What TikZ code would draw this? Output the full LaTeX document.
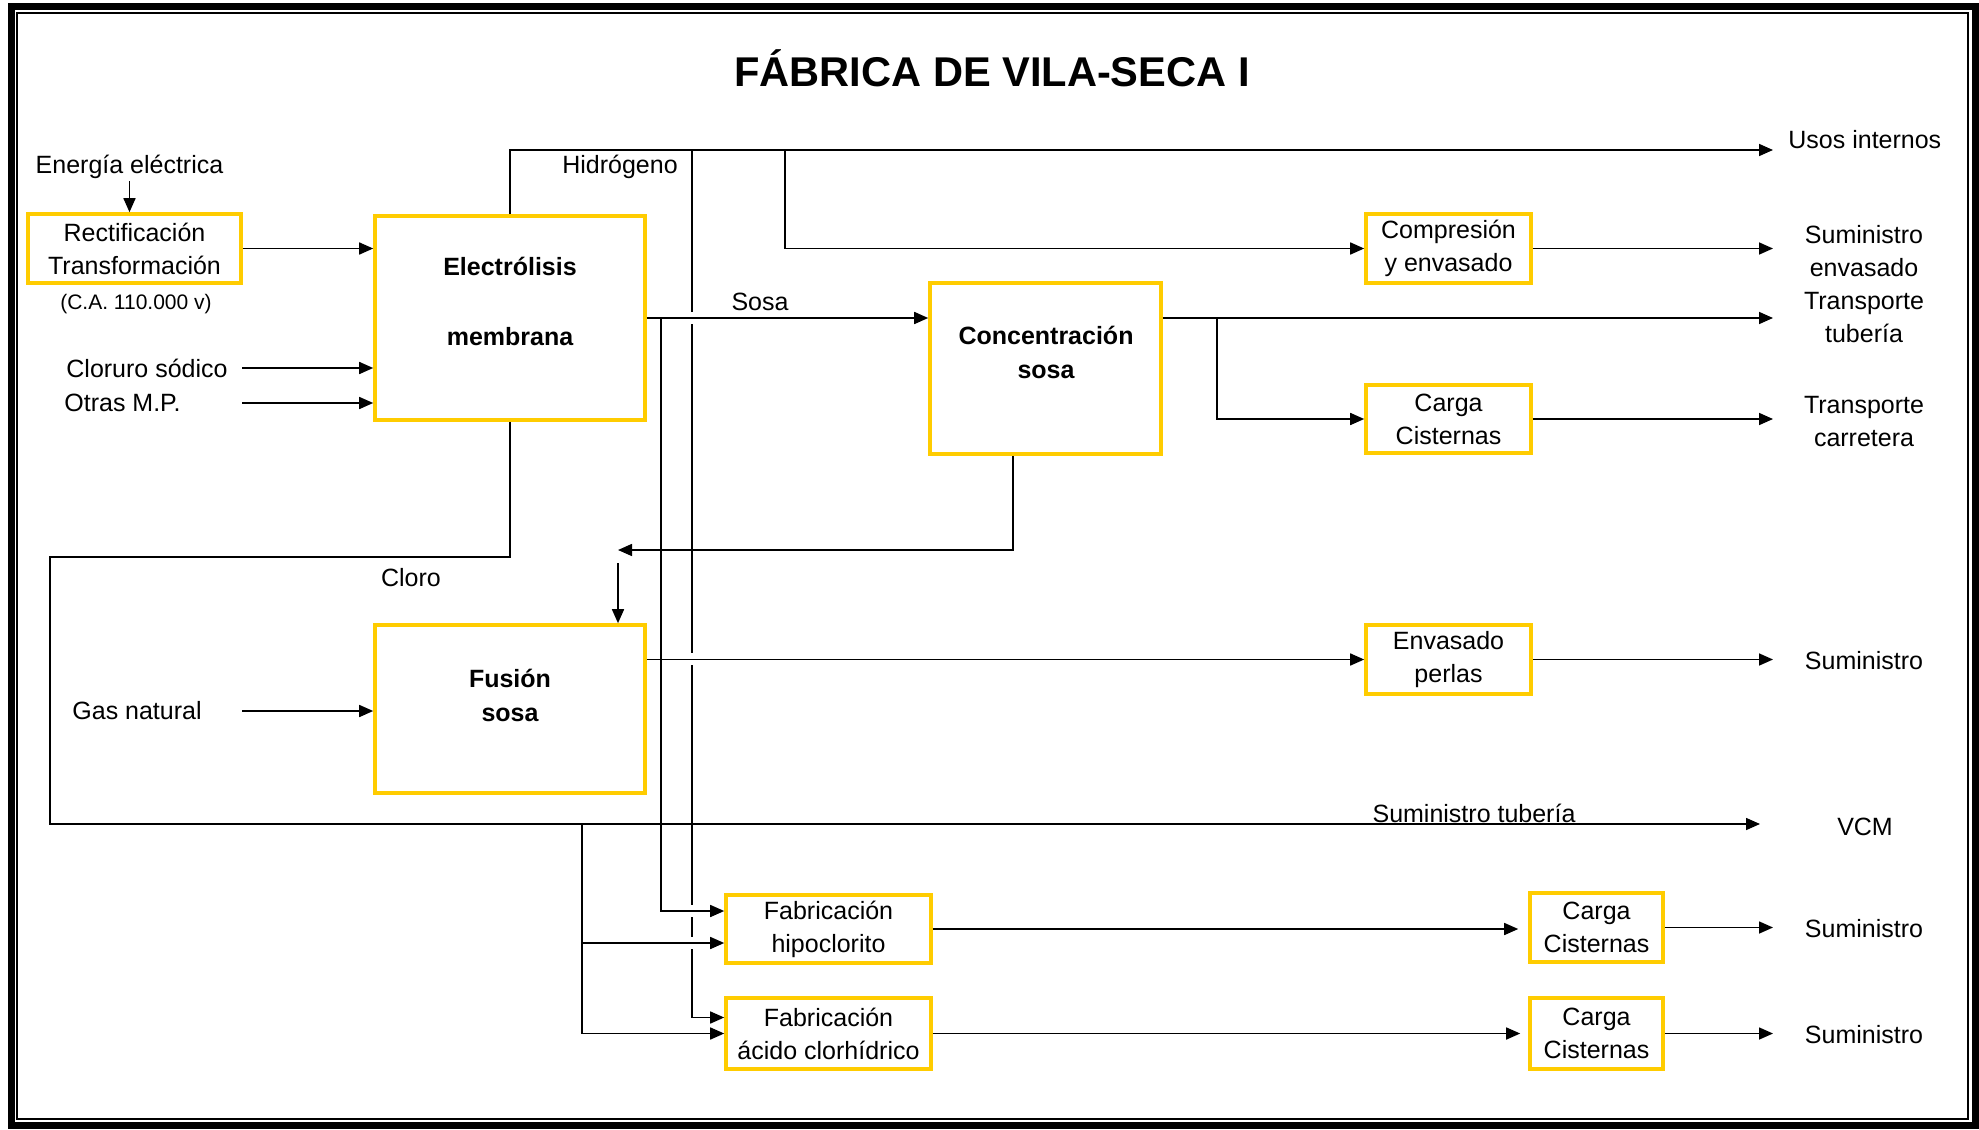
\documentclass[tikz,border=0pt]{standalone}
\usepackage{fontspec}
\setmainfont{Liberation Sans}
\usetikzlibrary{arrows.meta}
\definecolor{gold}{HTML}{FFCC00}

\tikzset{
  unit/.style={draw=gold, line width=1.8pt, inner sep=1pt, align=center,
    font=\fontsize{12.5}{16.5}\selectfont},
  bigunit/.style={draw=gold, line width=1.8pt},
  head/.style={inner sep=1pt, align=center, font=\bfseries\fontsize{12.5}{17}\selectfont},
  txt/.style={inner sep=1pt, align=center, font=\fontsize{12.5}{16.5}\selectfont},
  flow/.style={line width=0.8pt, -{Triangle[length=7pt,width=6pt]}},
  pipe/.style={line width=0.8pt},
}

\begin{document}
\begin{tikzpicture}[x=0.5pt, y=-0.5pt]
            \useasboundingbox (0,0) rectangle (1979,1129);

            % Frame
            \draw[line width=3.5pt] (11.5,7) rectangle (1975.5,1125);
            \draw[line width=1pt] (17,13) rectangle (1968,1118.5);

            % Title
            \node[font=\bfseries\fontsize{20.8}{25}\selectfont] (title) at (992,68) {FÁBRICA DE VILA-SECA I};

            % Process units
            \node[unit, minimum width=106.5pt, minimum height=34.5pt] (rect) at (134.5,248.5) {Rectificación\\Transformación};
            \node[bigunit, minimum width=135pt, minimum height=102pt] (elec) at (510,318) {};
            \node[head] (elecT) at (510,301) {Electrólisis\\[18pt]membrana};
            \node[bigunit, minimum width=115.5pt, minimum height=85.5pt] (conc) at (1045.5,368.5) {};
            \node[head] (concT) at (1046,352) {Concentración\\sosa};
            \node[bigunit, minimum width=135pt, minimum height=84pt] (fusion) at (510,709) {};
            \node[head] (fusionT) at (510,695) {Fusión\\sosa};
            \node[unit, minimum width=82.5pt, minimum height=34.5pt] (compr) at (1448.5,248.5) {Compresión\\y envasado};
            \node[unit, minimum width=82.5pt, minimum height=34pt] (carga1) at (1448.5,419) {Carga\\Cisternas};
            \node[unit, minimum width=82.5pt, minimum height=34.5pt] (envas) at (1448.5,659.5) {Envasado\\perlas};
            \node[unit, minimum width=102.5pt, minimum height=34pt] (hipo) at (828.5,929) {Fabricación\\hipoclorito};
            \node[unit, minimum width=102.5pt, minimum height=35.5pt] (acido) at (828.5,1033.5) {Fabricación\\ácido clorhídrico};
            \node[unit, minimum width=66.5pt, minimum height=34.5pt] (carga2) at (1596.5,927.5) {Carga\\Cisternas};
            \node[unit, minimum width=66.5pt, minimum height=35.5pt] (carga3) at (1596.5,1033.5) {Carga\\Cisternas};

            % Inputs and labels
            \node[txt] (energia) at (129.5,167) {Energía eléctrica};
            \node[txt, font=\fontsize{10.5}{12}\selectfont] (volt) at (136,304) {(C.A. 110.000 v)};
            \node[txt, anchor=west, inner sep=0pt] (cloruro) at (66,368) {Cloruro sódico};
            \node[txt, anchor=west, inner sep=0pt] (otras) at (64,403) {Otras M.P.};
            \node[txt, anchor=west, inner sep=0pt] (gas) at (72,711) {Gas natural};
            \node[txt] (hidro) at (620,167) {Hidrógeno};
            \node[txt] (sosa) at (760,302) {Sosa};
            \node[txt] (cloro) at (411,578) {Cloro};
            \node[txt] (sumtub) at (1474,813) {Suministro tubería};

            % Outputs
            \node[txt, anchor=west, inner sep=0pt] (usos) at (1788,140) {Usos internos};
            \node[txt] (sumenv) at (1864,251.5) {Suministro\\envasado};
            \node[txt] (trtub) at (1864,318) {Transporte\\tubería};
            \node[txt] (trcar) at (1864,421.5) {Transporte\\carretera};
            \node[txt] (sum1) at (1864,661) {Suministro};
            \node[txt] (vcm) at (1865,827) {VCM};
            \node[txt] (sum2) at (1864,929) {Suministro};
            \node[txt] (sum3) at (1864,1035) {Suministro};

            % Junction points
            \coordinate (inx) at (242,0);
            \coordinate (rim) at (1773,0);
            \coordinate (rimv) at (1760,0);
            \coordinate (htop) at (510,150);
            \coordinate (hcl) at (692,150);
            \coordinate (hcomp) at (785,150);
            \coordinate (sosab) at (661,318);
            \coordinate (cistb) at (1217,318);
            \coordinate (ret) at (618,550);
            \coordinate (drop) at (618,563);
            \coordinate (clw) at (50,557);
            \coordinate (cls) at (50,824);
            \coordinate (clb) at (582,824);

            % Hydrogen to HCl, with line jumps
            \draw[flow] (hcl) |- ([yshift=8pt]acido.west);
            \foreach \gy in {318,659,911,943} {
                \draw[white, line width=2pt] (692,\gy-6) -- (692,\gy+6);
            }

            % Feed lines
            \draw[flow] (energia.south) -- (energia.south |- rect.north);
            \draw[flow] (rect.east) -- (rect.east -| elec.west);
            \draw[flow] (cloruro -| inx) -- (cloruro -| elec.west);
            \draw[flow] (otras -| inx) -- (otras -| elec.west);
            \draw[flow] (gas -| inx) -- (gas -| fusion.west);

            % Hydrogen
            \draw[flow] (elec.north) -- (htop) -- (htop -| rim);
            \draw[flow] (hcomp) |- (compr.west);
            \draw[flow] (compr.east) -- (compr.east -| rim);

            % Caustic soda
            \draw[flow] (elec.east) -- (elec.east -| conc.west);
            \draw[flow] (sosab) |- ([yshift=9pt]hipo.west);
            \draw[flow] (elec.east -| conc.east) -- (elec.east -| rim);
            \draw[flow] (cistb) |- (carga1.west);
            \draw[flow] (carga1.east) -- (carga1.east -| rim);
            \draw[flow] ([xshift=-16.25pt]conc.south) |- (ret);
            \draw[flow] (drop) -- (drop |- fusion.north);
            \draw[flow] (envas.west -| fusion.east) -- (envas.west);
            \draw[flow] (envas.east) -- (envas.east -| rim);

            % Chlorine
            \draw[flow] (elec.south) |- (clw) -- (cls) -- (cls -| rimv);
            \draw[flow] (clb) |- ([yshift=-7pt]hipo.west);
            \draw[flow] (clb) |- (acido.west);
            \draw[flow, shorten >=5pt] (hipo.east) -- (hipo.east -| carga2.west);
            \draw[flow, shorten >=4pt] (acido.east) -- (acido.east -| carga3.west);
            \draw[flow] (carga2.east) -- (carga2.east -| rim);
            \draw[flow] (carga3.east) -- (carga3.east -| rim);
\end{tikzpicture}
\end{document}
